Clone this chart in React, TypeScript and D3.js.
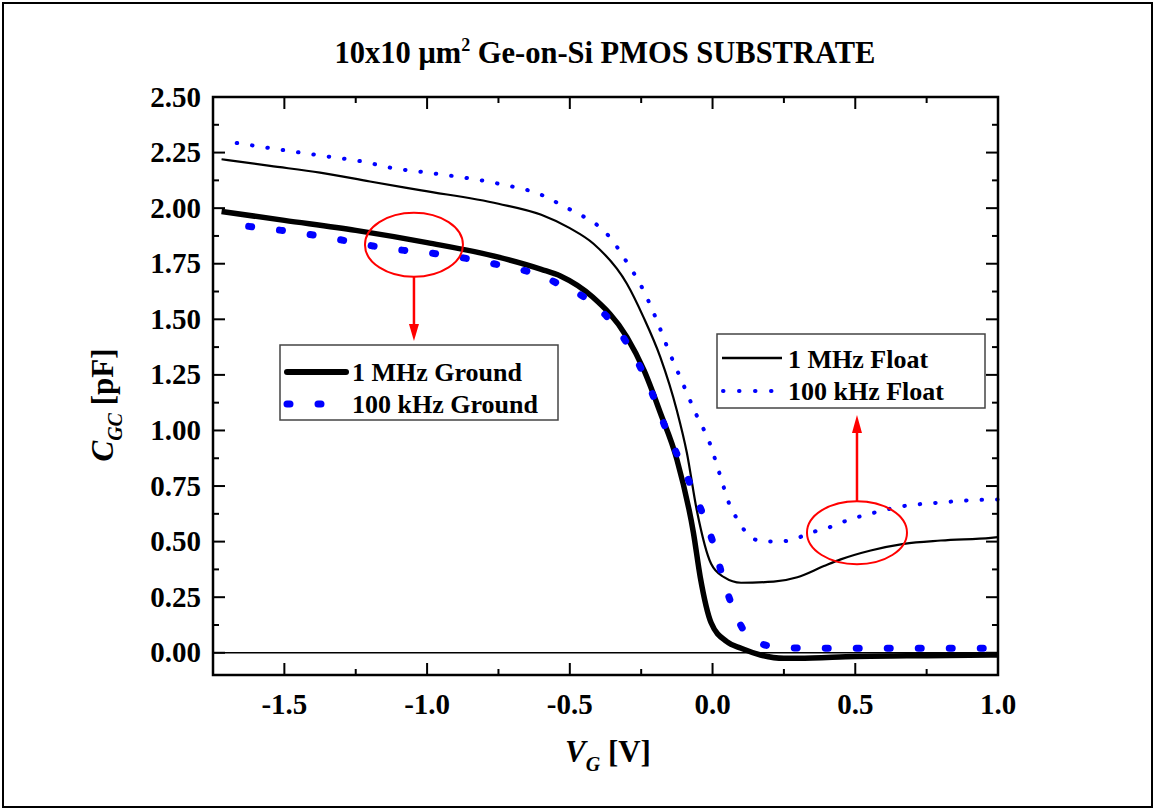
import React from "react";
import * as d3 from "d3";

// ---------- data ----------
const xTicks = [-1.5, -1.0, -0.5, 0.0, 0.5, 1.0];
const xTickLabels = ["-1.5", "-1.0", "-0.5", "0.0", "0.5", "1.0"];
const yTicks = [0, 0.25, 0.5, 0.75, 1.0, 1.25, 1.5, 1.75, 2.0, 2.25, 2.5];
const yTickLabels = ["0.00", "0.25", "0.50", "0.75", "1.00", "1.25", "1.50", "1.75", "2.00", "2.25", "2.50"];

const mhzGroundX = [-1.72, -1.5, -1.25, -1.0, -0.75, -0.6, -0.533, -0.42, -0.3, -0.24, -0.183, -0.125, -0.067, -0.043, -0.005, 0.05, 0.1, 0.168, 0.25, 0.3, 0.5, 0.75, 1.0];
const mhzGroundY = [1.985, 1.945, 1.9, 1.845, 1.78, 1.725, 1.695, 1.6, 1.42, 1.27, 1.08, 0.87, 0.54, 0.34, 0.135, 0.05, 0.02, -0.01, -0.025, -0.025, -0.017, -0.013, -0.01];

const mhzFloatX = [-1.72, -1.55, -1.375, -1.2, -1.02, -0.75, -0.6, -0.5, -0.417, -0.3, -0.242, -0.183, -0.125, -0.09, -0.055, -0.005, 0.04, 0.1, 0.214, 0.297, 0.39, 0.449, 0.554, 0.67, 0.8, 0.975, 1.0];
const mhzFloatY = [2.22, 2.19, 2.16, 2.12, 2.08, 2.02, 1.97, 1.91, 1.84, 1.66, 1.51, 1.33, 1.09, 0.9, 0.64, 0.4, 0.34, 0.315, 0.32, 0.34, 0.39, 0.42, 0.46, 0.49, 0.505, 0.517, 0.52];

const khzFloatX = [-1.667, -1.55, -1.445, -1.336, -1.228, -1.12, -1.0, -0.75, -0.6, -0.516, -0.463, -0.405, -0.352, -0.312, -0.277, -0.246, -0.2, -0.154, -0.107, -0.06, -0.009, 0.026, 0.06, 0.087, 0.126, 0.179, 0.23, 0.284, 0.343, 0.4, 0.46, 0.508, 0.566, 0.67, 0.79, 0.89, 1.0];
const khzFloatY = [2.293, 2.27, 2.25, 2.23, 2.21, 2.18, 2.16, 2.11, 2.06, 2.005, 1.97, 1.925, 1.857, 1.78, 1.71, 1.64, 1.51, 1.36, 1.22, 1.08, 0.94, 0.8, 0.665, 0.6, 0.53, 0.5, 0.5, 0.51, 0.54, 0.56, 0.59, 0.61, 0.63, 0.66, 0.675, 0.685, 0.69];

const khzGroundX = [-1.625, -1.51, -1.404, -1.3, -1.19, -1.08, -1.0, -0.75, -0.6, -0.533, -0.428, -0.33, -0.263, -0.214, -0.172, -0.127, -0.077, -0.033, 0.006, 0.035, 0.07, 0.129, 0.2, 0.238, 0.4, 0.6, 0.8, 1.0];
const khzGroundY = [1.918, 1.9, 1.88, 1.857, 1.83, 1.81, 1.8, 1.745, 1.695, 1.655, 1.58, 1.45, 1.31, 1.175, 1.035, 0.9, 0.755, 0.62, 0.478, 0.343, 0.206, 0.07, 0.03, 0.024, 0.02, 0.02, 0.02, 0.02];

const legendGround = ["1 MHz Ground", "100 kHz Ground"];
const legendFloat = ["1 MHz Float", "100 kHz Float"];

// annotation ellipses (data coords of centre)
const ellipseCenters: [number, number][] = [[-1.046, 1.835], [0.506, 0.54]];

// ---------- layout ----------
const W = 1155, H = 808;
const L = 213, R = 998, T = 97, B = 675;
const serif = "'Liberation Serif', 'Times New Roman', Times, serif";

export default function App() {
  const x = d3.scaleLinear().domain([-1.75, 1.0]).range([L, R]);
  const y = d3.scaleLinear().domain([-0.1, 2.5]).range([B, T]);

  const mk = (xs: number[], ys: number[]) =>
    d3.line<number>().x((_, i) => x(xs[i])).y((_, i) => y(ys[i])).curve(d3.curveMonotoneX)(xs as any) || "";

  const xMinor = d3.range(-1.75, 1.0001, 0.25).filter((v) => Math.abs((v * 2) - Math.round(v * 2)) > 1e-6);
  const yMinor = d3.range(-0.125, 2.5, 0.25).filter((v) => v > -0.1);

  const tickMaj = 12, tickMin = 6;
  const e0x = x(ellipseCenters[0][0]), e0y = y(ellipseCenters[0][1]);
  const e1x = x(ellipseCenters[1][0]), e1y = y(ellipseCenters[1][1]);

  return (
    <svg width={W} height={H} style={{ position: "absolute", left: 0, top: 0, background: "#fff" }} fontFamily={serif}>
      <rect x={0} y={0} width={W} height={H} fill="#fff" />
      <rect x={3} y={3} width={W - 6} height={H - 4} fill="none" stroke="#000" strokeWidth={2} />

      {/* title */}
      <text x={605} y={63} textAnchor="middle" fontSize={30.5} fontWeight="bold">
        10x10 μm<tspan dy={-12} fontSize={18}>2</tspan><tspan dy={12}> Ge-on-Si PMOS SUBSTRATE</tspan>
      </text>

      {/* zero line */}
      <line x1={L} x2={R} y1={y(0)} y2={y(0)} stroke="#000" strokeWidth={1.5} />

      {/* curves */}
      <path d={mk(mhzFloatX, mhzFloatY)} fill="none" stroke="#000" strokeWidth={2.2} strokeLinejoin="round" />
      <path d={mk(khzFloatX, khzFloatY)} fill="none" stroke="#0000ff" strokeWidth={4} strokeDasharray="0.5 15" strokeLinecap="round" />
      <path d={mk(mhzGroundX, mhzGroundY)} fill="none" stroke="#000" strokeWidth={5.5} strokeLinejoin="round" />
      <path d={mk(khzGroundX, khzGroundY)} fill="none" stroke="#0000ff" strokeWidth={7} strokeDasharray="3 28" strokeLinecap="round" />

      {/* axes frame */}
      <rect x={L} y={T} width={R - L} height={B - T} fill="none" stroke="#000" strokeWidth={2.5} />

      {/* x ticks */}
      {xTicks.map((v, i) => (
        <g key={"xt" + i}>
          <line x1={x(v)} x2={x(v)} y1={B} y2={B - tickMaj} stroke="#000" strokeWidth={2} />
          <line x1={x(v)} x2={x(v)} y1={T} y2={T + tickMaj} stroke="#000" strokeWidth={2} />
          <text x={x(v)} y={714} textAnchor="middle" fontSize={29} fontWeight="bold">{xTickLabels[i]}</text>
        </g>
      ))}
      {xMinor.map((v, i) => (
        <g key={"xm" + i}>
          <line x1={x(v)} x2={x(v)} y1={B} y2={B - tickMin} stroke="#000" strokeWidth={2} />
          <line x1={x(v)} x2={x(v)} y1={T} y2={T + tickMin} stroke="#000" strokeWidth={2} />
        </g>
      ))}

      {/* y ticks */}
      {yTicks.map((v, i) => (
        <g key={"yt" + i}>
          <line x1={L} x2={L + tickMaj} y1={y(v)} y2={y(v)} stroke="#000" strokeWidth={2} />
          <line x1={R} x2={R - tickMaj} y1={y(v)} y2={y(v)} stroke="#000" strokeWidth={2} />
          <text x={201} y={y(v)} dy="0.33em" textAnchor="end" fontSize={29} fontWeight="bold">{yTickLabels[i]}</text>
        </g>
      ))}
      {yMinor.map((v, i) => (
        <g key={"ym" + i}>
          <line x1={L} x2={L + tickMin} y1={y(v)} y2={y(v)} stroke="#000" strokeWidth={2} />
          <line x1={R} x2={R - tickMin} y1={y(v)} y2={y(v)} stroke="#000" strokeWidth={2} />
        </g>
      ))}

      {/* axis labels */}
      <text x={565} y={762} fontSize={31} fontWeight="bold">
        <tspan fontStyle="italic">V</tspan>
        <tspan fontStyle="italic" fontSize={20} dy={9}>G</tspan>
        <tspan dy={-9}> [V]</tspan>
      </text>
      <text transform="translate(113,405) rotate(-90)" textAnchor="middle" fontSize={31} fontWeight="bold">
        <tspan fontStyle="italic">C</tspan>
        <tspan fontStyle="italic" fontSize={20} dy={9}>GC</tspan>
        <tspan dy={-9}> [pF]</tspan>
      </text>

      {/* legend ground */}
      <rect x={280} y={345} width={278} height={75} fill="#fff" stroke="#444" strokeWidth={1.5} />
      <line x1={287} x2={346} y1={372} y2={372} stroke="#000" strokeWidth={6} strokeLinecap="round" />
      <text x={352} y={381} fontSize={26} fontWeight="bold">{legendGround[0]}</text>
      <line x1={287} x2={330} y1={404} y2={404} stroke="#0000ff" strokeWidth={7} strokeDasharray="3 28" strokeLinecap="round" />
      <text x={352} y={413} fontSize={26} fontWeight="bold">{legendGround[1]}</text>

      {/* legend float */}
      <rect x={717} y={334} width={268} height={74} fill="#fff" stroke="#444" strokeWidth={1.5} />
      <line x1={722} x2={782} y1={358} y2={358} stroke="#000" strokeWidth={2.5} />
      <text x={788} y={368} fontSize={26} fontWeight="bold">{legendFloat[0]}</text>
      <line x1={723} x2={785} y1={391} y2={391} stroke="#0000ff" strokeWidth={4} strokeDasharray="0.5 15.5" strokeLinecap="round" />
      <text x={788} y={400} fontSize={26} fontWeight="bold">{legendFloat[1]}</text>

      {/* annotations */}
      <ellipse cx={e0x} cy={e0y} rx={49} ry={32} fill="none" stroke="#ff0000" strokeWidth={2} />
      <line x1={e0x} x2={e0x} y1={e0y + 32} y2={330} stroke="#ff0000" strokeWidth={2.5} />
      <path d={`M${e0x - 5},${324} L${e0x + 5},${324} L${e0x},${341} z`} fill="#ff0000" />
      <ellipse cx={e1x} cy={e1y} rx={50} ry={31.5} fill="none" stroke="#ff0000" strokeWidth={2} />
      <line x1={e1x} x2={e1x} y1={e1y - 31.5} y2={425} stroke="#ff0000" strokeWidth={2.5} />
      <path d={`M${e1x - 5},${433} L${e1x + 5},${433} L${e1x},${415} z`} fill="#ff0000" />
    </svg>
  );
}
